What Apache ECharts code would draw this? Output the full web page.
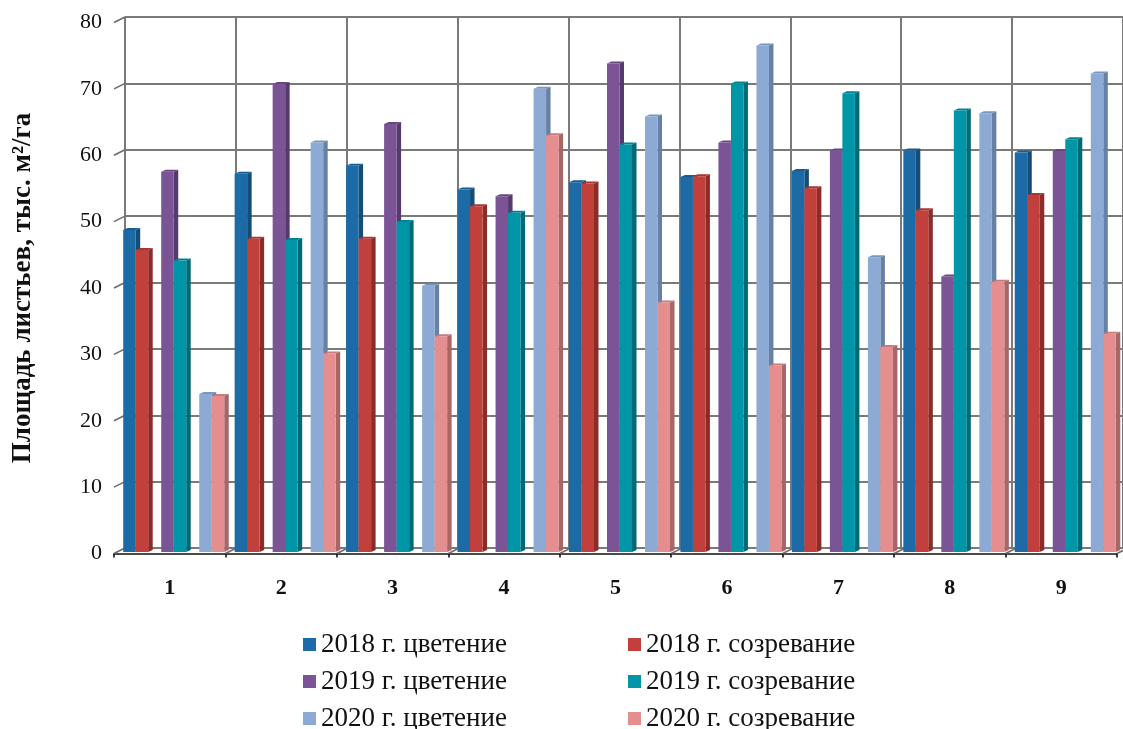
<!DOCTYPE html>
<html>
<head>
<meta charset="utf-8">
<script src="https://cdn.jsdelivr.net/npm/echarts@6/dist/echarts.min.js"></script>
<style>
  html, body { margin: 0; padding: 0; background: #ffffff; }
  #chart { width: 1123px; height: 729px; }
</style>
</head>
<body>
<div id="chart"></div>
<script>
// Variants (x axis)
const categories = ['1', '2', '3', '4', '5', '6', '7', '8', '9'];

// Leaf area, thousand m²/ha
const flowering2018 = [48.5, 57.0, 58.2, 54.6, 55.7, 56.5, 57.4, 60.5, 60.2];
const ripening2018  = [45.5, 47.2, 47.2, 52.1, 55.5, 56.6, 54.8, 51.5, 53.8];
const flowering2019 = [57.3, 70.5, 64.5, 53.6, 73.6, 61.7, 60.5, 41.5, 60.4];
const ripening2019  = [43.9, 47.0, 49.7, 51.1, 61.4, 70.6, 69.1, 66.5, 62.2];
const flowering2020 = [23.8, 61.7, 40.1, 69.8, 65.6, 76.3, 44.4, 66.1, 72.1];
const ripening2020  = [23.5, 29.9, 32.5, 62.8, 37.6, 28.1, 30.9, 40.7, 32.9];

const seriesNames = [
  '2018 г. цветение', '2018 г. созревание',
  '2019 г. цветение', '2019 г. созревание',
  '2020 г. цветение', '2020 г. созревание'
];
const seriesValues = [flowering2018, ripening2018, flowering2019, ripening2019, flowering2020, ripening2020];

// Y axis ticks
const yTicks = [0, 10, 20, 30, 40, 50, 60, 70, 80];

// face / side / top colours of the pseudo-3D columns
const palette = [
  { front: '#1c6ba6', side: '#144d78', top: '#185d90' },
  { front: '#c2403b', side: '#8c2b28', top: '#a83531' },
  { front: '#7a5494', side: '#56396d', top: '#684781' },
  { front: '#0096a8', side: '#006a77', top: '#008293' },
  { front: '#8caad3', side: '#6680a6', top: '#7995bd' },
  { front: '#e58e8f', side: '#a86667', top: '#c97b7c' }
];

const FONT = '"Liberation Serif", "Times New Roman", serif';
const DEPTH_X = 4.5, DEPTH_Y = 2, LIFT = 1.5;

function columnRenderer(idx) {
  const col = palette[idx];
  const pair = Math.floor(idx / 2), inPair = idx % 2;
  return function (params, api) {
    const cat = api.value(0), val = api.value(1);
    const band = api.size([1, 0])[0];
    const k = band / 111.4;
    const base = api.coord([cat, 0]);
    const top = api.coord([cat, val]);
    const w = 12.5 * k;
    const xl = base[0] - band / 2 + (9.2 + pair * 38 + inPair * 12.5) * k;
    const xr = xl + w;
    const yb = base[1] - LIFT, yt = top[1] - LIFT;
    return {
      type: 'group',
      children: [
        { type: 'polygon', shape: { points: [[xr, yb], [xr, yt], [xr + DEPTH_X, yt - DEPTH_Y], [xr + DEPTH_X, yb - DEPTH_Y]] },
          style: { fill: col.side } },
        { type: 'polygon', shape: { points: [[xl, yt], [xl + DEPTH_X, yt - DEPTH_Y], [xr + DEPTH_X, yt - DEPTH_Y], [xr, yt]] },
          style: { fill: col.top } },
        { type: 'rect', shape: { x: xl, y: yt, width: w, height: yb - yt },
          style: { fill: col.front } }
      ]
    };
  };
}

// Short slanted lines joining the front axes to the back wall
function wallTickRenderer(params, api) {
  const kind = api.value(0), v = api.value(1);
  let p;
  if (kind === 0) {
    p = api.coord([0, v]);
    p[0] = params.coordSys.x;
  } else {
    p = api.coord([v, 0]);
    p[0] = params.coordSys.x + v * api.size([1, 0])[0];
  }
  return {
    type: 'line',
    shape: { x1: p[0], y1: p[1], x2: p[0] + 11, y2: p[1] - 5.5 },
    style: { stroke: '#6d6d6d', lineWidth: 1.6 }
  };
}

const barSeries = seriesValues.map((vals, i) => ({
  name: seriesNames[i],
  type: 'custom',
  xAxisIndex: 0,
  yAxisIndex: 0,
  renderItem: columnRenderer(i),
  itemStyle: { color: palette[i].front },
  encode: { x: 0, y: 1 },
  data: vals.map((v, c) => [c, v]),
  z: 5
}));

const wallTicks = yTicks.slice(1).map(v => [0, v])
  .concat(categories.map((c, i) => [1, i]).concat([[1, categories.length]]));

const option = {
  animation: false,
  backgroundColor: '#ffffff',
  grid: [
    { left: 114, top: 22.5, width: 1003, height: 531 },   // front plane
    { left: 125, top: 17, width: 1003, height: 531 }      // back wall
  ],
  xAxis: [
    {
      type: 'category', gridIndex: 0, data: categories, boundaryGap: true,
      axisLine: { show: true, lineStyle: { color: '#111', width: 1.6 } },
      axisTick: { show: true, length: 4, lineStyle: { color: '#111', width: 1.6 } },
      axisLabel: { fontFamily: FONT, fontSize: 22, fontWeight: 'bold', color: '#111', margin: 24 },
      splitLine: { show: false }
    },
    {
      type: 'category', gridIndex: 1, data: categories, boundaryGap: true,
      axisLine: { show: false }, axisTick: { show: false }, axisLabel: { show: false },
      splitLine: { show: true, lineStyle: { color: '#7a7a7a', width: 2 } }
    }
  ],
  yAxis: [
    {
      type: 'value', gridIndex: 0, min: 0, max: 80, interval: 10,
      axisLine: { show: false }, axisTick: { show: false }, splitLine: { show: false },
      axisLabel: { fontFamily: FONT, fontSize: 22, color: '#111', margin: 12 },
      name: 'Площадь листьев, тыс. м²/га',
      nameLocation: 'middle', nameRotate: 90, nameGap: 77,
      nameTextStyle: { fontFamily: FONT, fontSize: 27, fontWeight: 'bold', color: '#111' }
    },
    {
      type: 'value', gridIndex: 1, min: 0, max: 80, interval: 10,
      axisLine: { show: false }, axisTick: { show: false }, axisLabel: { show: false },
      splitLine: { show: true, lineStyle: { color: '#7a7a7a', width: 2 } }
    }
  ],
  legend: {
    left: 298, top: 625, width: 720,
    orient: 'horizontal',
    icon: 'rect', itemWidth: 13, itemHeight: 13, itemGap: 8,
    selectedMode: false,
    data: seriesNames,
    textStyle: { fontFamily: FONT, fontSize: 27, color: '#111', width: 299, lineHeight: 29 }
  },
  series: barSeries.concat([{
    name: 'wall',
    type: 'custom',
    xAxisIndex: 0, yAxisIndex: 0,
    renderItem: wallTickRenderer,
    data: wallTicks,
    silent: true,
    z: 1
  }])
};

const chart = echarts.init(document.getElementById('chart'), null, { renderer: 'canvas' });
chart.setOption(option);
</script>
</body>
</html>
